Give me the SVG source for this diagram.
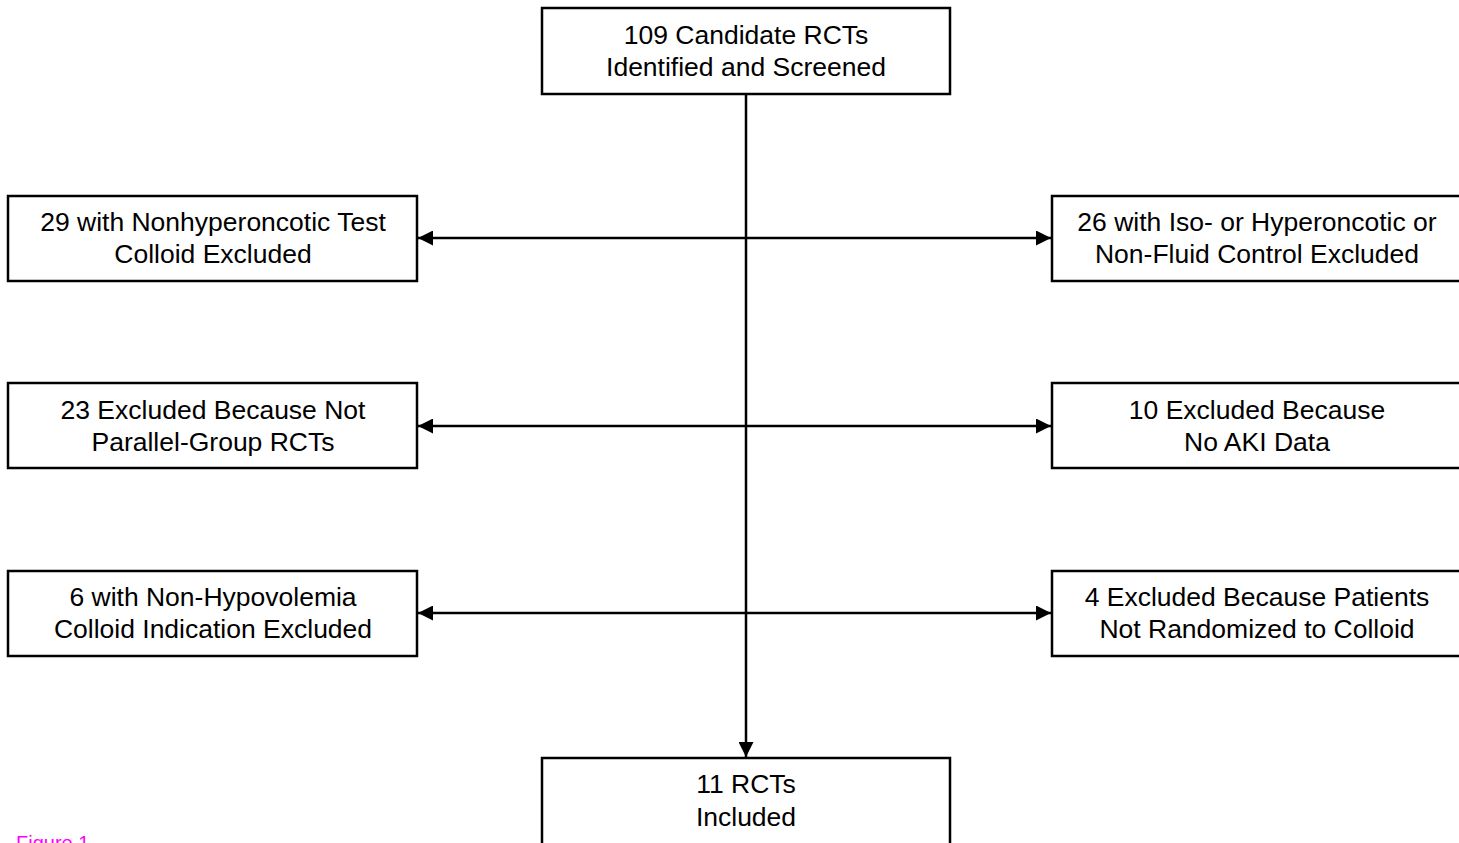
<svg xmlns="http://www.w3.org/2000/svg" width="1459" height="843" viewBox="0 0 1459 843">
<style>
.box{fill:#fff;stroke:#000;stroke-width:2.5}
.t{font-family:"Liberation Sans",Arial,sans-serif;font-size:26.5px;fill:#000;text-anchor:middle}
.c{stroke:#000;stroke-width:2.5;fill:none}
</style>
<defs>
<marker id="ah" viewBox="0 0 10 10" refX="10" refY="5" markerWidth="6" markerHeight="6" markerUnits="strokeWidth" orient="auto-start-reverse">
<path d="M0,0L10,5L0,10z" fill="#000"/>
</marker>
</defs>
<rect width="1459" height="843" fill="#fff"/>
<g id="connectors">
<line class="c" x1="746" y1="94" x2="746" y2="757" marker-end="url(#ah)"/>
<line class="c" x1="418" y1="238" x2="1051" y2="238" marker-start="url(#ah)" marker-end="url(#ah)"/>
<line class="c" x1="418" y1="426" x2="1051" y2="426" marker-start="url(#ah)" marker-end="url(#ah)"/>
<line class="c" x1="418" y1="613" x2="1051" y2="613" marker-start="url(#ah)" marker-end="url(#ah)"/>
</g>
<g id="n_top"><rect class="box" x="542" y="8" width="408" height="86"/>
<text class="t" x="746" y="44">109 Candidate RCTs</text><text class="t" x="746" y="76">Identified and Screened</text></g>
<g id="n_l1"><rect class="box" x="8" y="196" width="409" height="85"/>
<text class="t" x="213" y="231">29 with Nonhyperoncotic Test</text><text class="t" x="213" y="263">Colloid Excluded</text></g>
<g id="n_r1"><rect class="box" x="1052" y="196" width="410" height="85"/>
<text class="t" x="1257" y="231">26 with Iso- or Hyperoncotic or</text><text class="t" x="1257" y="263">Non-Fluid Control Excluded</text></g>
<g id="n_l2"><rect class="box" x="8" y="383" width="409" height="85"/>
<text class="t" x="213" y="419">23 Excluded Because Not</text><text class="t" x="213" y="451">Parallel-Group RCTs</text></g>
<g id="n_r2"><rect class="box" x="1052" y="383" width="410" height="85"/>
<text class="t" x="1257" y="419">10 Excluded Because</text><text class="t" x="1257" y="451">No AKI Data</text></g>
<g id="n_l3"><rect class="box" x="8" y="571" width="409" height="85"/>
<text class="t" x="213" y="606">6 with Non-Hypovolemia</text><text class="t" x="213" y="638">Colloid Indication Excluded</text></g>
<g id="n_r3"><rect class="box" x="1052" y="571" width="410" height="85"/>
<text class="t" x="1257" y="606">4 Excluded Because Patients</text><text class="t" x="1257" y="638">Not Randomized to Colloid</text></g>
<g id="n_bottom"><rect class="box" x="542" y="758" width="408" height="90"/>
<text class="t" x="746" y="793">11 RCTs</text><text class="t" x="746" y="826">Included</text></g>
<text x="16" y="850" font-family="Liberation Sans,Arial,sans-serif" font-size="20" fill="#ff00ff">Figure 1</text>
</svg>
